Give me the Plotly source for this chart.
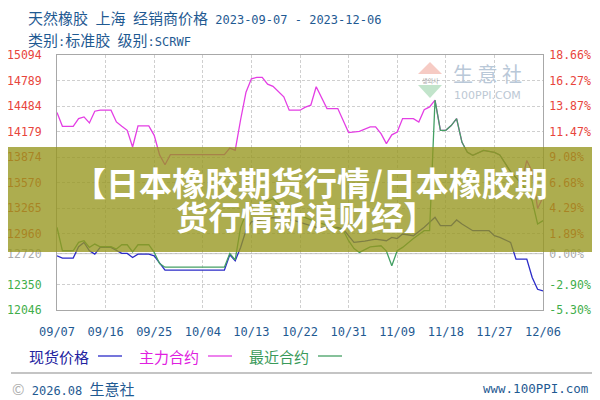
import plotly.graph_objects as go

# ---------------- data ----------------
spot_dates = ["2023-09-07","2023-09-08","2023-09-10","2023-09-11","2023-09-12","2023-09-13","2023-09-14",
              "2023-09-15","2023-09-17","2023-09-18","2023-09-19","2023-09-20","2023-09-21","2023-09-22",
              "2023-09-24","2023-09-25","2023-09-27","2023-10-08","2023-10-09","2023-10-10","2023-10-11",
              "2023-10-12","2023-10-13","2023-10-17","2023-10-21","2023-10-25","2023-10-29","2023-10-30",
              "2023-10-31","2023-11-01","2023-11-03","2023-11-05","2023-11-07","2023-11-08","2023-11-09",
              "2023-11-10","2023-11-12","2023-11-13","2023-11-14","2023-11-16","2023-11-17","2023-11-19",
              "2023-11-20","2023-11-21","2023-11-23","2023-11-26","2023-11-27","2023-11-28","2023-11-29",
              "2023-11-30","2023-12-01","2023-12-03","2023-12-04","2023-12-05","2023-12-06"]
spot_vals = [12694,12666,12666,12802,12854,12754,12714,
             12794,12794,12754,12722,12722,12674,12714,
             12714,12694,12522,12522,12706,12634,12794,
             13000,13100,13150,13114,13034,13034,13014,
             12934,12854,12870,12894,12874,12914,12900,
             12954,12934,12980,13034,13154,13054,13054,
             13122,13074,12994,12994,12934,12914,12880,
             12854,12654,12654,12434,12294,12274]

main_dates = ["2023-09-07","2023-09-08","2023-09-10","2023-09-11","2023-09-12","2023-09-13","2023-09-14",
              "2023-09-15","2023-09-17","2023-09-18","2023-09-19","2023-09-20","2023-09-21","2023-09-22",
              "2023-09-24","2023-09-25","2023-09-26","2023-09-27","2023-09-28","2023-10-08","2023-10-09",
              "2023-10-10","2023-10-11","2023-10-12","2023-10-13","2023-10-14","2023-10-15","2023-10-16",
              "2023-10-17","2023-10-18","2023-10-19","2023-10-20","2023-10-22","2023-10-23","2023-10-24",
              "2023-10-25","2023-10-27","2023-10-29","2023-10-31","2023-11-02","2023-11-04","2023-11-05",
              "2023-11-06","2023-11-07","2023-11-08","2023-11-09","2023-11-10","2023-11-12","2023-11-13",
              "2023-11-14","2023-11-15","2023-11-16","2023-11-17","2023-11-18","2023-11-19","2023-11-20",
              "2023-11-21","2023-11-22","2023-11-23","2023-11-25","2023-11-27","2023-11-28","2023-11-30",
              "2023-12-02","2023-12-03","2023-12-04","2023-12-05","2023-12-06"]
main_vals = [14406,14242,14242,14334,14354,14282,14422,
             14434,14434,14294,14242,14194,13994,14246,
             14246,14134,13900,13782,13902,13902,13982,
             13954,14320,14650,14810,14826,14826,14746,
             14720,14660,14594,14434,14434,14470,14494,
             14714,14454,14454,14166,14182,14234,14234,
             14154,14034,14140,14174,14334,14334,14294,
             14440,14474,14554,14194,14194,14250,14334,
             14050,13930,13894,13954,13930,13900,13700,
             13560,13834,13700,13260,13394]

near_dates = ["2023-09-07","2023-09-08","2023-09-10","2023-09-11","2023-09-12","2023-09-13","2023-09-14",
              "2023-09-15","2023-09-17","2023-09-18","2023-09-19","2023-09-20","2023-09-21","2023-09-22",
              "2023-09-24","2023-09-25","2023-09-26","2023-09-27","2023-10-08","2023-10-09","2023-10-10",
              "2023-10-11","2023-10-12","2023-10-13","2023-10-17","2023-10-18","2023-10-21","2023-10-25",
              "2023-10-30","2023-10-31","2023-11-01","2023-11-02","2023-11-04","2023-11-06","2023-11-07",
              "2023-11-08","2023-11-09","2023-11-10","2023-11-12","2023-11-14","2023-11-15","2023-11-16",
              "2023-11-17","2023-11-18","2023-11-19","2023-11-20","2023-11-21","2023-11-22","2023-11-23",
              "2023-11-25","2023-11-27","2023-11-28","2023-11-30","2023-12-02","2023-12-03","2023-12-04",
              "2023-12-05","2023-12-06"]
near_vals = [13034,12754,12754,12854,12874,12794,12834,
             12802,12802,12774,12826,12826,12740,12826,
             12826,12734,12600,12558,12558,12722,12646,
             13034,13200,13274,13374,13314,13200,13100,
             13000,12874,12780,12734,12800,12814,12750,
             12574,12754,12794,12900,12994,12994,14554,
             14194,14194,14250,14334,14050,13930,13894,
             13954,13930,13900,13700,13560,13480,13350,
             13074,13114]

BASE = 12720
y_ticks = [15094,14789,14484,14179,13874,13570,13265,12960,12720,12350,12046]
left_labels = ["15094","14789","14484","14179","13874","13570","13265","12960","12720","12350","12046"]
right_labels = ["18.66%","16.27%","13.87%","11.47%","9.08%","6.68%","4.29%","1.89%","0.00%","-2.90%","-5.30%"]
x_ticks = ["2023-09-07","2023-09-16","2023-09-25","2023-10-04","2023-10-13","2023-10-22",
           "2023-10-31","2023-11-09","2023-11-18","2023-11-27","2023-12-06"]
x_labels = ["09/07","09/16","09/25","10/04","10/13","10/22","10/31","11/09","11/18","11/27","12/06"]

series_names = ["现货价格", "主力合约", "最近合约"]
title_parts = ["天然橡胶\u2002上海\u2002经销商价格", " 2023-09-07 - 2023-12-06"]
subtitle_parts = [("类别", 0), (":", 1), ("标准胶", 0), (" ", 1), ("级别", 0), (":SCRWF", 1)]
banner_line1 = "【日本橡胶期货行情/日本橡胶期"
banner_line2 = "货行情新浪财经】"
footer_left = ["©", " 2026.08 ", "生意社"]
footer_right = "www.100PPI.com"

# ---------------- geometry (screen pixels; page body has an 8px margin) ----------------
OFF = 8
W, H = 600 - OFF, 400 - OFF
PL, PR, PT, PB = 57, 543, 55, 310          # plot box in screen pixels
ML, MR, MT, MB = PL - OFF, W - (PR - OFF), PT - OFF, H - (PB - OFF)
PW, PH = PR - PL, PB - PT

def px(x):
    return (x - PL) / PW

def py(y):
    return (PB - y) / PH

RED, GRAY, GREEN = "#e8453c", "#ababab", "#3fae4a"
C_SPOT, C_MAIN, C_NEAR = "#2b2bc8", "#e43ee4", "#44a064"
TXT_BLUE = "#1f5a92"
MONO = "DejaVu Sans Mono"
CJK = "Noto Sans CJK SC"

def mono(t, size=12):
    return f"<span style='font-family:{MONO};font-size:{size}px'>{t}</span>"

def colored(labels):
    out = []
    for v, t in zip(y_ticks, labels):
        c = RED if v > BASE else (GRAY if v == BASE else GREEN)
        out.append(f'<span style="color:{c}">{t}</span>')
    return out

fig = go.Figure()
fig.add_trace(go.Scatter(x=spot_dates, y=spot_vals, mode="lines", name=series_names[0],
                         line=dict(color=C_SPOT, width=1.3), showlegend=False))
fig.add_trace(go.Scatter(x=main_dates, y=main_vals, mode="lines", name=series_names[1],
                         line=dict(color=C_MAIN, width=1.3), showlegend=False))
fig.add_trace(go.Scatter(x=near_dates, y=near_vals, mode="lines", name=series_names[2],
                         line=dict(color=C_NEAR, width=1.3), showlegend=False))
fig.add_trace(go.Scatter(x=[x_ticks[0]], y=[BASE], yaxis="y2", mode="markers",
                         marker=dict(opacity=0), showlegend=False, hoverinfo="skip"))

grid = dict(showgrid=True, gridcolor="#cfcfcf", griddash="3px,2px", gridwidth=1)

fig.update_layout(
    width=W, height=H, margin=dict(l=ML, r=MR, t=MT, b=MB, autoexpand=False),
    paper_bgcolor="white", plot_bgcolor="white",
    xaxis=dict(type="date", range=[x_ticks[0], x_ticks[-1]], tickmode="array",
               tickvals=x_ticks, ticktext=x_labels, zeroline=False, automargin=False,
               tickfont=dict(family=MONO, size=12, color=TXT_BLUE),
               ticks="outside", ticklen=11, tickcolor="rgba(0,0,0,0)",
               showline=True, mirror=True, linecolor="#a8a8a8", linewidth=1, **grid),
    yaxis=dict(range=[y_ticks[-1], y_ticks[0]], tickmode="array", tickvals=y_ticks,
               ticktext=colored(left_labels), zeroline=False, automargin=False,
               tickfont=dict(family=MONO, size=11.5),
               ticks="outside", ticklen=12, tickcolor="rgba(0,0,0,0)",
               showline=True, mirror=True, linecolor="#a8a8a8", linewidth=1, **grid),
    yaxis2=dict(range=[y_ticks[-1], y_ticks[0]], overlaying="y", side="right",
                tickmode="array", tickvals=y_ticks, ticktext=colored(right_labels),
                tickfont=dict(family=MONO, size=11.5), showgrid=False, zeroline=False,
                automargin=False, ticks="outside", ticklen=3, tickcolor="rgba(0,0,0,0)"),
    showlegend=False,
)

shapes = []
shapes.append(dict(type="line", xref="paper", yref="y", x0=0, x1=1, y0=BASE, y1=BASE,
                   line=dict(color="#b8b8b8", width=1), layer="below"))
# right edge of outer frame
shapes.append(dict(type="line", xref="paper", yref="paper", x0=px(598.5), x1=px(598.5), y0=py(8), y1=py(400),
                   line=dict(color="#c4c4c4", width=1)))
# separator above footer
shapes.append(dict(type="line", xref="paper", yref="paper", x0=px(11), x1=px(594), y0=py(373), y1=py(373),
                   line=dict(color="#b0b0b0", width=1.5)))
# legend line samples
for (x0, x1), c in zip([(98, 122), (208, 232), (318, 342)], [C_SPOT, C_MAIN, C_NEAR]):
    shapes.append(dict(type="line", xref="paper", yref="paper", x0=px(x0), x1=px(x1), y0=py(356), y1=py(356),
                       line=dict(color=c, width=1.3)))
# watermark logo
shapes.append(dict(type="path", xref="paper", yref="paper",
                   path=f"M {px(430)} {py(62)} L {px(442)} {py(74)} L {px(418)} {py(74)} Z",
                   fillcolor="rgba(235,140,125,0.45)", line=dict(width=0), layer="below"))
shapes.append(dict(type="path", xref="paper", yref="paper",
                   path=f"M {px(418)} {py(85)} L {px(442)} {py(85)} L {px(430)} {py(98)} Z",
                   fillcolor="rgba(120,195,140,0.45)", line=dict(width=0), layer="below"))
# banner
shapes.append(dict(type="rect", xref="paper", yref="paper", x0=px(8), x1=px(600), y0=py(252), y1=py(147),
                   fillcolor="rgb(150,150,30)", opacity=0.78, line=dict(width=0), layer="above"))

ann = []
def add_text(x, y, text, size, color, family=CJK, xanchor="left"):
    ann.append(dict(xref="paper", yref="paper", x=px(x), y=py(y), text=text, showarrow=False,
                    xanchor=xanchor, yanchor="middle", font=dict(family=family, size=size, color=color)))

add_text(26, 17, title_parts[0] + mono(title_parts[1]), 15, TXT_BLUE)
add_text(26, 40, "".join(mono(t) if m else t for t, m in subtitle_parts), 15, TXT_BLUE)
# watermark text
add_text(487, 74, "生 意 社", 20, "#b9c8d8", xanchor="center")
add_text(487, 95, "100PPI.COM", 11, "#bcc8d4", family="DejaVu Sans", xanchor="center")
add_text(430, 80, "생의사", 6, "#a0a0a0", xanchor="center")
# legend texts
add_text(27, 356, series_names[0], 15, "#2222a0")
add_text(137, 356, series_names[1], 15, "#e020e0")
add_text(247, 356, series_names[2], 15, "#3a9a5a")
# footer
add_text(10, 388, f"<span style='color:#b0b0b0'>{footer_left[0]}</span>" + mono(footer_left[1]) + footer_left[2],
         15, TXT_BLUE)
add_text(590, 388, footer_right, 12.5, TXT_BLUE, family=MONO, xanchor="right")
# banner text
add_text(310, 182, f"<b>{banner_line1}</b>", 33, "white", xanchor="center")
add_text(306, 215, f"<b>{banner_line2}</b>", 32.5, "white", xanchor="center")

fig.update_layout(shapes=shapes, annotations=ann)
fig.write_html("out.html")
